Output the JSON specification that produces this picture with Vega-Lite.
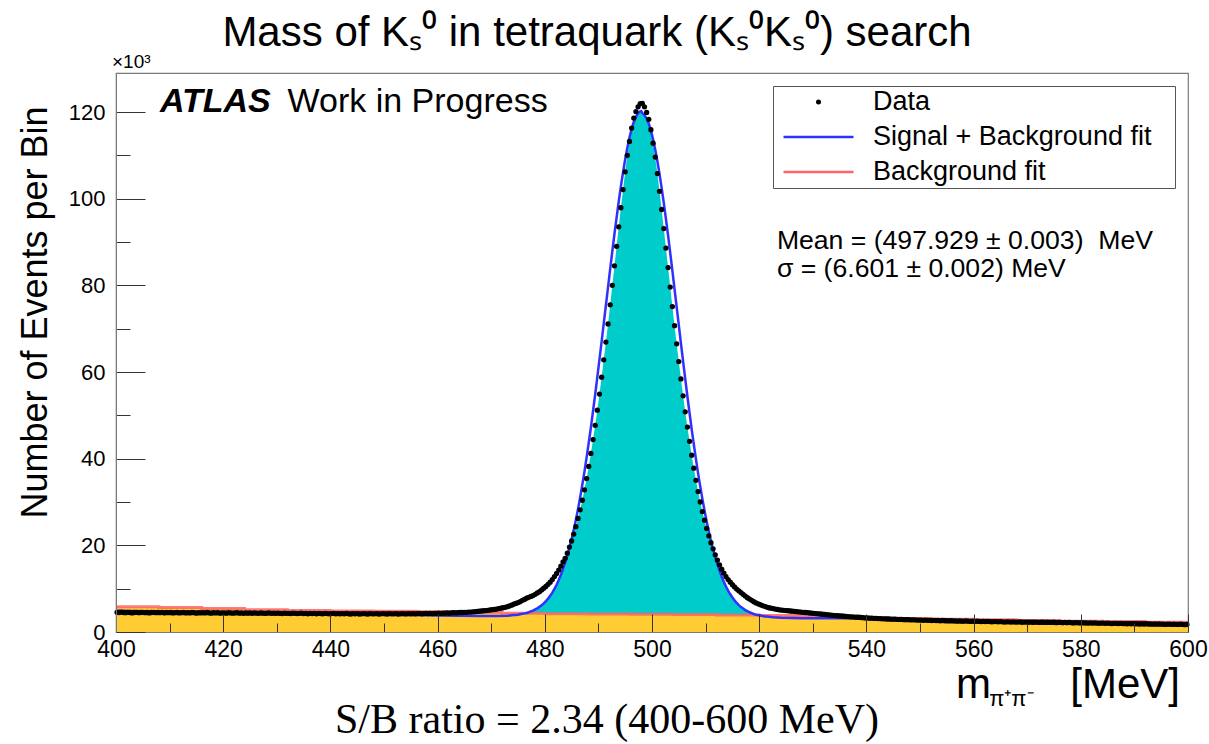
{
  "$schema": "https://vega.github.io/schema/vega-lite/v6.json",
  "width": 1072,
  "height": 559,
  "autosize": {"type": "none"},
  "padding": {"left": 116, "top": 73, "right": 21, "bottom": 112},
  "background": "white",
  "config": {
    "view": {"stroke": "#7a7a7a", "strokeWidth": 1.2},
    "font": "Liberation Sans",
    "text": {"font": "Liberation Sans", "color": "black"},
    "legend": {
      "orient": "none",
      "legendX": 657,
      "legendY": 13,
      "fillColor": "white",
      "strokeColor": "#555555",
      "padding": 0,
      "symbolType": "stroke",
      "symbolSize": 4900,
      "symbolStrokeWidth": 2.5,
      "symbolOffset": 32,
      "labelOffset": 41,
      "clipHeight": 32,
      "rowPadding": 3,
      "labelFont": "Liberation Sans",
      "labelFontSize": 27,
      "labelColor": "black",
      "labelLimit": 500,
      "titleOrient": "right",
      "titlePadding": 24,
      "titleFont": "Liberation Sans",
      "titleFontSize": 27,
      "titleColor": "white"
    }
  },
  "title": {
    "text": "Mass of Kₛ⁰ in tetraquark (Kₛ⁰Kₛ⁰) search",
    "font": "Liberation Sans",
    "fontSize": 42,
    "fontWeight": "normal",
    "color": "black",
    "anchor": "middle",
    "frame": "group",
    "dx": -55,
    "offset": -2
  },
  "datasets": {
    "bkg": [
      {"m": 400, "n": 5.8}, {"m": 408, "n": 5.65}, {"m": 416, "n": 5.4}, {"m": 424, "n": 5.15},
      {"m": 432, "n": 4.95}, {"m": 440, "n": 4.85}, {"m": 448, "n": 4.8}, {"m": 456, "n": 4.7},
      {"m": 464, "n": 4.55}, {"m": 472, "n": 4.35}, {"m": 480, "n": 4.2}, {"m": 488, "n": 4.15},
      {"m": 496, "n": 4.1}, {"m": 504, "n": 4.05}, {"m": 512, "n": 3.95}, {"m": 520, "n": 3.8},
      {"m": 528, "n": 3.55}, {"m": 536, "n": 3.3}, {"m": 544, "n": 3.1}, {"m": 552, "n": 2.95},
      {"m": 560, "n": 2.8}, {"m": 568, "n": 2.65}, {"m": 576, "n": 2.5}, {"m": 584, "n": 2.4},
      {"m": 592, "n": 2.25}, {"m": 600, "n": 2.25}
    ],
    "sig": [
      {"m": 474.2, "n": 3.9}, {"m": 474.6, "n": 3.95}, {"m": 475.0, "n": 4.0}, {"m": 475.4, "n": 4.1},
      {"m": 475.8, "n": 4.2}, {"m": 476.2, "n": 4.3}, {"m": 476.6, "n": 4.4}, {"m": 477.0, "n": 4.55},
      {"m": 477.4, "n": 4.75}, {"m": 477.8, "n": 4.95}, {"m": 478.2, "n": 5.2}, {"m": 478.6, "n": 5.45},
      {"m": 479.0, "n": 5.8}, {"m": 479.4, "n": 6.15}, {"m": 479.8, "n": 6.6}, {"m": 480.2, "n": 7.1},
      {"m": 480.6, "n": 7.7}, {"m": 481.0, "n": 8.35}, {"m": 481.4, "n": 9.1}, {"m": 481.8, "n": 9.95},
      {"m": 482.2, "n": 10.9}, {"m": 482.6, "n": 12.0}, {"m": 483.0, "n": 13.2}, {"m": 483.4, "n": 14.55},
      {"m": 483.8, "n": 16.0}, {"m": 484.2, "n": 17.7}, {"m": 484.6, "n": 19.5}, {"m": 485.0, "n": 21.0},
      {"m": 485.4, "n": 22.6}, {"m": 485.8, "n": 24.3}, {"m": 486.2, "n": 26.2}, {"m": 486.6, "n": 28.2},
      {"m": 487.0, "n": 30.4}, {"m": 487.4, "n": 32.8}, {"m": 487.8, "n": 35.4}, {"m": 488.2, "n": 38.2},
      {"m": 488.6, "n": 41.2}, {"m": 489.0, "n": 44.4}, {"m": 489.4, "n": 47.7}, {"m": 489.8, "n": 51.2},
      {"m": 490.2, "n": 54.9}, {"m": 490.6, "n": 58.8}, {"m": 491.0, "n": 62.8}, {"m": 491.4, "n": 66.9},
      {"m": 491.8, "n": 71.1}, {"m": 492.2, "n": 75.5}, {"m": 492.6, "n": 80.0}, {"m": 493.0, "n": 84.5},
      {"m": 493.4, "n": 89.0}, {"m": 493.8, "n": 93.5}, {"m": 494.2, "n": 97.9}, {"m": 494.6, "n": 102.1},
      {"m": 495.0, "n": 106.2}, {"m": 495.4, "n": 110.0}, {"m": 495.8, "n": 113.2}, {"m": 496.2, "n": 116.1},
      {"m": 496.6, "n": 117.7}, {"m": 497.0, "n": 118.9}, {"m": 497.4, "n": 119.7}, {"m": 497.8, "n": 120.15},
      {"m": 498.2, "n": 119.75}, {"m": 498.6, "n": 119.3}, {"m": 499.0, "n": 118.5}, {"m": 499.4, "n": 117.3},
      {"m": 499.8, "n": 115.7}, {"m": 500.2, "n": 112.8}, {"m": 500.6, "n": 109.6}, {"m": 501.0, "n": 105.8},
      {"m": 501.4, "n": 101.7}, {"m": 501.8, "n": 97.5}, {"m": 502.2, "n": 93.1}, {"m": 502.6, "n": 88.6},
      {"m": 503.0, "n": 84.1}, {"m": 503.4, "n": 79.6}, {"m": 503.8, "n": 75.1}, {"m": 504.2, "n": 70.7},
      {"m": 504.6, "n": 66.5}, {"m": 505.0, "n": 62.4}, {"m": 505.4, "n": 58.4}, {"m": 505.8, "n": 54.5},
      {"m": 506.2, "n": 50.8}, {"m": 506.6, "n": 47.3}, {"m": 507.0, "n": 44.0}, {"m": 507.4, "n": 40.8},
      {"m": 507.8, "n": 37.8}, {"m": 508.2, "n": 35.0}, {"m": 508.6, "n": 32.4}, {"m": 509.0, "n": 30.0},
      {"m": 509.4, "n": 27.8}, {"m": 509.8, "n": 25.8}, {"m": 510.2, "n": 23.9}, {"m": 510.6, "n": 22.2},
      {"m": 511.0, "n": 20.6}, {"m": 511.4, "n": 19.1}, {"m": 511.8, "n": 17.3}, {"m": 512.2, "n": 15.6},
      {"m": 512.6, "n": 14.15}, {"m": 513.0, "n": 12.8}, {"m": 513.4, "n": 11.6}, {"m": 513.8, "n": 10.5},
      {"m": 514.2, "n": 9.55}, {"m": 514.6, "n": 8.7}, {"m": 515.0, "n": 7.95}, {"m": 515.4, "n": 7.3},
      {"m": 515.8, "n": 6.7}, {"m": 516.2, "n": 6.2}, {"m": 516.6, "n": 5.75}, {"m": 517.0, "n": 5.4},
      {"m": 517.4, "n": 5.05}, {"m": 517.8, "n": 4.8}, {"m": 518.2, "n": 4.55}, {"m": 518.6, "n": 4.35},
      {"m": 519.0, "n": 4.15}, {"m": 519.4, "n": 4.0}, {"m": 519.8, "n": 3.9}, {"m": 520.2, "n": 3.8}
    ],
    "fit": [
      {"m": 400, "n": 4.9}, {"m": 405, "n": 4.8}, {"m": 410, "n": 4.7}, {"m": 415, "n": 4.6},
      {"m": 420, "n": 4.5}, {"m": 425, "n": 4.42}, {"m": 430, "n": 4.35}, {"m": 435, "n": 4.28},
      {"m": 440, "n": 4.2}, {"m": 445, "n": 4.1}, {"m": 450, "n": 4.0}, {"m": 455, "n": 3.9},
      {"m": 460, "n": 3.8}, {"m": 464, "n": 3.75}, {"m": 468, "n": 3.7}, {"m": 471, "n": 3.7},
      {"m": 473, "n": 3.75}, {"m": 474.2, "n": 3.9}, {"m": 474.6, "n": 3.95}, {"m": 475.0, "n": 4.0},
      {"m": 475.4, "n": 4.1}, {"m": 475.8, "n": 4.2}, {"m": 476.2, "n": 4.3}, {"m": 476.6, "n": 4.4},
      {"m": 477.0, "n": 4.55}, {"m": 477.4, "n": 4.75}, {"m": 477.8, "n": 4.95}, {"m": 478.2, "n": 5.2},
      {"m": 478.6, "n": 5.45}, {"m": 479.0, "n": 5.8}, {"m": 479.4, "n": 6.15}, {"m": 479.8, "n": 6.6},
      {"m": 480.2, "n": 7.1}, {"m": 480.6, "n": 7.7}, {"m": 481.0, "n": 8.35}, {"m": 481.4, "n": 9.1},
      {"m": 481.8, "n": 9.95}, {"m": 482.2, "n": 10.9}, {"m": 482.6, "n": 12.0}, {"m": 483.0, "n": 13.2},
      {"m": 483.4, "n": 14.55}, {"m": 483.8, "n": 16.0}, {"m": 484.2, "n": 17.7}, {"m": 484.6, "n": 19.5},
      {"m": 485.0, "n": 21.4}, {"m": 485.4, "n": 23.6}, {"m": 485.8, "n": 25.9}, {"m": 486.2, "n": 28.4},
      {"m": 486.6, "n": 31.1}, {"m": 487.0, "n": 34.0}, {"m": 487.4, "n": 37.0}, {"m": 487.8, "n": 40.3},
      {"m": 488.2, "n": 43.7}, {"m": 488.6, "n": 47.2}, {"m": 489.0, "n": 51.0}, {"m": 489.4, "n": 54.8},
      {"m": 489.8, "n": 58.8}, {"m": 490.2, "n": 62.9}, {"m": 490.6, "n": 67.0}, {"m": 491.0, "n": 71.2},
      {"m": 491.4, "n": 75.4}, {"m": 491.8, "n": 79.6}, {"m": 492.2, "n": 83.8}, {"m": 492.6, "n": 87.9},
      {"m": 493.0, "n": 91.9}, {"m": 493.4, "n": 95.7}, {"m": 493.8, "n": 99.4}, {"m": 494.2, "n": 102.9},
      {"m": 494.6, "n": 106.1}, {"m": 495.0, "n": 109.1}, {"m": 495.4, "n": 111.75}, {"m": 495.8, "n": 114.1},
      {"m": 496.2, "n": 116.1}, {"m": 496.6, "n": 117.7}, {"m": 497.0, "n": 118.9}, {"m": 497.4, "n": 119.7},
      {"m": 497.8, "n": 120.15}, {"m": 498.0, "n": 120.2}, {"m": 498.2, "n": 119.75}, {"m": 498.6, "n": 119.3},
      {"m": 499.0, "n": 118.5}, {"m": 499.4, "n": 117.3}, {"m": 499.8, "n": 115.7}, {"m": 500.2, "n": 113.7},
      {"m": 500.6, "n": 111.35}, {"m": 501.0, "n": 108.7}, {"m": 501.4, "n": 105.7}, {"m": 501.8, "n": 102.5},
      {"m": 502.2, "n": 99.0}, {"m": 502.6, "n": 95.3}, {"m": 503.0, "n": 91.5}, {"m": 503.4, "n": 87.5},
      {"m": 503.8, "n": 83.4}, {"m": 504.2, "n": 79.2}, {"m": 504.6, "n": 75.0}, {"m": 505.0, "n": 70.8},
      {"m": 505.4, "n": 66.6}, {"m": 505.8, "n": 62.5}, {"m": 506.2, "n": 58.4}, {"m": 506.6, "n": 54.4},
      {"m": 507.0, "n": 50.6}, {"m": 507.4, "n": 46.8}, {"m": 507.8, "n": 43.3}, {"m": 508.2, "n": 39.9},
      {"m": 508.6, "n": 36.6}, {"m": 509.0, "n": 33.6}, {"m": 509.4, "n": 30.7}, {"m": 509.8, "n": 28.0},
      {"m": 510.2, "n": 25.5}, {"m": 510.6, "n": 23.2}, {"m": 511.0, "n": 21.0}, {"m": 511.4, "n": 19.1},
      {"m": 511.8, "n": 17.3}, {"m": 512.2, "n": 15.6}, {"m": 512.6, "n": 14.15}, {"m": 513.0, "n": 12.8},
      {"m": 513.4, "n": 11.6}, {"m": 513.8, "n": 10.5}, {"m": 514.2, "n": 9.55}, {"m": 514.6, "n": 8.7},
      {"m": 515.0, "n": 7.95}, {"m": 515.4, "n": 7.3}, {"m": 515.8, "n": 6.7}, {"m": 516.2, "n": 6.2},
      {"m": 516.6, "n": 5.75}, {"m": 517.0, "n": 5.4}, {"m": 517.4, "n": 5.05}, {"m": 517.8, "n": 4.8},
      {"m": 518.2, "n": 4.55}, {"m": 518.6, "n": 4.35}, {"m": 519.0, "n": 4.15}, {"m": 519.4, "n": 4.0},
      {"m": 519.8, "n": 3.9}, {"m": 520.2, "n": 3.8}, {"m": 520.6, "n": 3.7}, {"m": 521.0, "n": 3.6},
      {"m": 521.4, "n": 3.55}, {"m": 521.8, "n": 3.5}, {"m": 522.6, "n": 3.4}, {"m": 524, "n": 3.3},
      {"m": 526, "n": 3.25}, {"m": 528, "n": 3.2}, {"m": 532, "n": 3.2}, {"m": 536, "n": 3.2},
      {"m": 540, "n": 3.15}, {"m": 545, "n": 2.95}, {"m": 550, "n": 2.75}, {"m": 555, "n": 2.6},
      {"m": 560, "n": 2.45}, {"m": 570, "n": 2.3}, {"m": 580, "n": 2.15}, {"m": 590, "n": 1.95},
      {"m": 600, "n": 1.75}
    ],
    "hist": [
      {"m":400.2,"n":4.55},{"m":400.6,"n":4.5},{"m":401.0,"n":4.6},{"m":401.4,"n":4.5},{"m":401.8,"n":4.45},
      {"m":402.2,"n":4.55},{"m":402.6,"n":4.5},{"m":403.0,"n":4.4},{"m":403.4,"n":4.5},{"m":403.8,"n":4.55},
      {"m":404.2,"n":4.45},{"m":404.6,"n":4.5},{"m":405.0,"n":4.55},{"m":405.4,"n":4.45},{"m":405.8,"n":4.5},
      {"m":406.2,"n":4.4},{"m":406.6,"n":4.5},{"m":407.0,"n":4.55},{"m":407.4,"n":4.45},{"m":407.8,"n":4.5},
      {"m":408.2,"n":4.45},{"m":408.6,"n":4.55},{"m":409.0,"n":4.4},{"m":409.4,"n":4.5},{"m":409.8,"n":4.45},
      {"m":410.2,"n":4.5},{"m":410.6,"n":4.4},{"m":411.0,"n":4.45},{"m":411.4,"n":4.5},{"m":411.8,"n":4.4},
      {"m":412.2,"n":4.45},{"m":412.6,"n":4.5},{"m":413.0,"n":4.4},{"m":413.4,"n":4.45},{"m":413.8,"n":4.4},
      {"m":414.2,"n":4.5},{"m":414.6,"n":4.45},{"m":415.0,"n":4.35},{"m":415.4,"n":4.45},{"m":415.8,"n":4.4},
      {"m":416.2,"n":4.45},{"m":416.6,"n":4.4},{"m":417.0,"n":4.5},{"m":417.4,"n":4.4},{"m":417.8,"n":4.35},
      {"m":418.2,"n":4.45},{"m":418.6,"n":4.4},{"m":419.0,"n":4.45},{"m":419.4,"n":4.35},{"m":419.8,"n":4.4},
      {"m":420.2,"n":4.4},{"m":420.6,"n":4.35},{"m":421.0,"n":4.45},{"m":421.4,"n":4.4},{"m":421.8,"n":4.35},
      {"m":422.2,"n":4.4},{"m":422.6,"n":4.45},{"m":423.0,"n":4.35},{"m":423.4,"n":4.4},{"m":423.8,"n":4.3},
      {"m":424.2,"n":4.4},{"m":424.6,"n":4.35},{"m":425.0,"n":4.4},{"m":425.4,"n":4.3},{"m":425.8,"n":4.4},
      {"m":426.2,"n":4.35},{"m":426.6,"n":4.3},{"m":427.0,"n":4.4},{"m":427.4,"n":4.35},{"m":427.8,"n":4.3},
      {"m":428.2,"n":4.35},{"m":428.6,"n":4.4},{"m":429.0,"n":4.3},{"m":429.4,"n":4.35},{"m":429.8,"n":4.3},
      {"m":430.2,"n":4.35},{"m":430.6,"n":4.3},{"m":431.0,"n":4.25},{"m":431.4,"n":4.35},{"m":431.8,"n":4.3},
      {"m":432.2,"n":4.3},{"m":432.6,"n":4.25},{"m":433.0,"n":4.35},{"m":433.4,"n":4.3},{"m":433.8,"n":4.25},
      {"m":434.2,"n":4.3},{"m":434.6,"n":4.35},{"m":435.0,"n":4.25},{"m":435.4,"n":4.3},{"m":435.8,"n":4.2},
      {"m":436.2,"n":4.3},{"m":436.6,"n":4.25},{"m":437.0,"n":4.3},{"m":437.4,"n":4.2},{"m":437.8,"n":4.3},
      {"m":438.2,"n":4.25},{"m":438.6,"n":4.2},{"m":439.0,"n":4.3},{"m":439.4,"n":4.25},{"m":439.8,"n":4.2},
      {"m":440.2,"n":4.25},{"m":440.6,"n":4.3},{"m":441.0,"n":4.2},{"m":441.4,"n":4.25},{"m":441.8,"n":4.2},
      {"m":442.2,"n":4.25},{"m":442.6,"n":4.2},{"m":443.0,"n":4.3},{"m":443.4,"n":4.2},{"m":443.8,"n":4.15},
      {"m":444.2,"n":4.25},{"m":444.6,"n":4.2},{"m":445.0,"n":4.25},{"m":445.4,"n":4.15},{"m":445.8,"n":4.2},
      {"m":446.2,"n":4.25},{"m":446.6,"n":4.2},{"m":447.0,"n":4.15},{"m":447.4,"n":4.25},{"m":447.8,"n":4.2},
      {"m":448.2,"n":4.2},{"m":448.6,"n":4.25},{"m":449.0,"n":4.15},{"m":449.4,"n":4.2},{"m":449.8,"n":4.25},
      {"m":450.2,"n":4.2},{"m":450.6,"n":4.15},{"m":451.0,"n":4.25},{"m":451.4,"n":4.2},{"m":451.8,"n":4.2},
      {"m":452.2,"n":4.25},{"m":452.6,"n":4.15},{"m":453.0,"n":4.2},{"m":453.4,"n":4.25},{"m":453.8,"n":4.2},
      {"m":454.2,"n":4.2},{"m":454.6,"n":4.25},{"m":455.0,"n":4.2},{"m":455.4,"n":4.25},{"m":455.8,"n":4.2},
      {"m":456.2,"n":4.25},{"m":456.6,"n":4.3},{"m":457.0,"n":4.2},{"m":457.4,"n":4.25},{"m":457.8,"n":4.3},
      {"m":458.2,"n":4.25},{"m":458.6,"n":4.3},{"m":459.0,"n":4.25},{"m":459.4,"n":4.3},{"m":459.8,"n":4.3},
      {"m":460.2,"n":4.35},{"m":460.6,"n":4.3},{"m":461.0,"n":4.35},{"m":461.4,"n":4.35},{"m":461.8,"n":4.4},
      {"m":462.2,"n":4.35},{"m":462.6,"n":4.4},{"m":463.0,"n":4.45},{"m":463.4,"n":4.4},{"m":463.8,"n":4.45},
      {"m":464.2,"n":4.5},{"m":464.6,"n":4.5},{"m":465.0,"n":4.55},{"m":465.4,"n":4.55},{"m":465.8,"n":4.6},
      {"m":466.2,"n":4.6},{"m":466.6,"n":4.65},{"m":467.0,"n":4.7},{"m":467.4,"n":4.75},{"m":467.8,"n":4.8},
      {"m":468.2,"n":4.85},{"m":468.6,"n":4.9},{"m":469.0,"n":4.95},{"m":469.4,"n":5.0},{"m":469.8,"n":5.1},
      {"m":470.2,"n":5.15},{"m":470.6,"n":5.2},{"m":471.0,"n":5.3},{"m":471.4,"n":5.4},{"m":471.8,"n":5.5},
      {"m":472.2,"n":5.6},{"m":472.6,"n":5.7},{"m":473.0,"n":5.85},{"m":473.4,"n":6.0},{"m":473.8,"n":6.2},
      {"m":474.2,"n":6.4},{"m":474.6,"n":6.6},{"m":475.0,"n":6.8},{"m":475.4,"n":7.0},{"m":475.8,"n":7.3},
      {"m":476.2,"n":7.5},{"m":476.6,"n":7.8},{"m":477.0,"n":8.0},{"m":477.4,"n":8.2},{"m":477.8,"n":8.4},
      {"m":478.2,"n":8.7},{"m":478.6,"n":9.0},{"m":479.0,"n":9.3},{"m":479.4,"n":9.7},{"m":479.8,"n":10.1},
      {"m":480.2,"n":10.5},{"m":480.6,"n":11.0},{"m":481.0,"n":11.5},{"m":481.4,"n":12.1},{"m":481.8,"n":12.8},
      {"m":482.2,"n":13.5},{"m":482.6,"n":14.3},{"m":483.0,"n":15.2},{"m":483.4,"n":16.2},{"m":483.8,"n":17.0},
      {"m":484.2,"n":18.2},{"m":484.6,"n":19.6},{"m":485.0,"n":21.0},{"m":485.4,"n":22.6},{"m":485.8,"n":24.3},
      {"m":486.2,"n":26.2},{"m":486.6,"n":28.2},{"m":487.0,"n":30.4},{"m":487.4,"n":32.8},{"m":487.8,"n":35.4},
      {"m":488.2,"n":38.2},{"m":488.6,"n":41.2},{"m":489.0,"n":44.4},{"m":489.4,"n":47.7},{"m":489.8,"n":51.2},
      {"m":490.2,"n":54.9},{"m":490.6,"n":58.8},{"m":491.0,"n":62.8},{"m":491.4,"n":66.9},{"m":491.8,"n":71.1},
      {"m":492.2,"n":75.5},{"m":492.6,"n":80.0},{"m":493.0,"n":84.5},{"m":493.4,"n":89.0},{"m":493.8,"n":93.5},
      {"m":494.2,"n":97.9},{"m":494.6,"n":102.1},{"m":495.0,"n":106.2},{"m":495.4,"n":110.0},{"m":495.8,"n":113.2},
      {"m":496.2,"n":116.3},{"m":496.6,"n":118.6},{"m":497.0,"n":120.1},{"m":497.4,"n":121.2},{"m":497.8,"n":121.9},
      {"m":498.2,"n":122.0},{"m":498.6,"n":121.2},{"m":499.0,"n":119.9},{"m":499.4,"n":118.3},{"m":499.8,"n":115.9},
      {"m":500.2,"n":112.8},{"m":500.6,"n":109.6},{"m":501.0,"n":105.8},{"m":501.4,"n":101.7},{"m":501.8,"n":97.5},
      {"m":502.2,"n":93.1},{"m":502.6,"n":88.6},{"m":503.0,"n":84.1},{"m":503.4,"n":79.6},{"m":503.8,"n":75.1},
      {"m":504.2,"n":70.7},{"m":504.6,"n":66.5},{"m":505.0,"n":62.4},{"m":505.4,"n":58.4},{"m":505.8,"n":54.5},
      {"m":506.2,"n":50.8},{"m":506.6,"n":47.3},{"m":507.0,"n":44.0},{"m":507.4,"n":40.8},{"m":507.8,"n":37.8},
      {"m":508.2,"n":35.0},{"m":508.6,"n":32.4},{"m":509.0,"n":30.0},{"m":509.4,"n":27.8},{"m":509.8,"n":25.8},
      {"m":510.2,"n":23.9},{"m":510.6,"n":22.2},{"m":511.0,"n":20.6},{"m":511.4,"n":19.2},{"m":511.8,"n":17.8},
      {"m":512.2,"n":16.6},{"m":512.6,"n":15.5},{"m":513.0,"n":14.5},{"m":513.4,"n":13.6},{"m":513.8,"n":12.8},
      {"m":514.2,"n":12.1},{"m":514.6,"n":11.5},{"m":515.0,"n":10.9},{"m":515.4,"n":10.4},{"m":515.8,"n":9.9},
      {"m":516.2,"n":9.5},{"m":516.6,"n":9.1},{"m":517.0,"n":8.7},{"m":517.4,"n":8.3},{"m":517.8,"n":7.9},
      {"m":518.2,"n":7.6},{"m":518.6,"n":7.3},{"m":519.0,"n":7.0},{"m":519.4,"n":6.7},{"m":519.8,"n":6.5},
      {"m":520.2,"n":6.3},{"m":520.6,"n":6.1},{"m":521.0,"n":5.9},{"m":521.4,"n":5.75},{"m":521.8,"n":5.6},
      {"m":522.2,"n":5.5},{"m":522.6,"n":5.4},{"m":523.0,"n":5.3},{"m":523.4,"n":5.2},{"m":523.8,"n":5.1},
      {"m":524.2,"n":5.05},{"m":524.6,"n":5.0},{"m":525.0,"n":4.95},{"m":525.4,"n":4.9},{"m":525.8,"n":4.85},
      {"m":526.2,"n":4.8},{"m":526.6,"n":4.75},{"m":527.0,"n":4.7},{"m":527.4,"n":4.65},{"m":527.8,"n":4.6},
      {"m":528.2,"n":4.55},{"m":528.6,"n":4.5},{"m":529.0,"n":4.45},{"m":529.4,"n":4.4},{"m":529.8,"n":4.35},
      {"m":530.2,"n":4.3},{"m":530.6,"n":4.25},{"m":531.0,"n":4.2},{"m":531.4,"n":4.15},{"m":531.8,"n":4.1},
      {"m":532.2,"n":4.05},{"m":532.6,"n":4.0},{"m":533.0,"n":3.95},{"m":533.4,"n":3.9},{"m":533.8,"n":3.85},
      {"m":534.2,"n":3.8},{"m":534.6,"n":3.75},{"m":535.0,"n":3.7},{"m":535.4,"n":3.7},{"m":535.8,"n":3.65},
      {"m":536.2,"n":3.6},{"m":536.6,"n":3.55},{"m":537.0,"n":3.5},{"m":537.4,"n":3.5},{"m":537.8,"n":3.45},
      {"m":538.2,"n":3.4},{"m":538.6,"n":3.4},{"m":539.0,"n":3.35},{"m":539.4,"n":3.3},{"m":539.8,"n":3.25},
      {"m":540.2,"n":3.25},{"m":540.6,"n":3.2},{"m":541.0,"n":3.2},{"m":541.4,"n":3.15},{"m":541.8,"n":3.15},
      {"m":542.2,"n":3.1},{"m":542.6,"n":3.1},{"m":543.0,"n":3.05},{"m":543.4,"n":3.05},{"m":543.8,"n":3.0},
      {"m":544.2,"n":3.0},{"m":544.6,"n":2.95},{"m":545.0,"n":2.95},{"m":545.4,"n":2.95},{"m":545.8,"n":2.9},
      {"m":546.2,"n":2.9},{"m":546.6,"n":2.9},{"m":547.0,"n":2.85},{"m":547.4,"n":2.85},{"m":547.8,"n":2.85},
      {"m":548.2,"n":2.8},{"m":548.6,"n":2.8},{"m":549.0,"n":2.8},{"m":549.4,"n":2.75},{"m":549.8,"n":2.75},
      {"m":550.2,"n":2.75},{"m":550.6,"n":2.7},{"m":551.0,"n":2.75},{"m":551.4,"n":2.7},{"m":551.8,"n":2.7},
      {"m":552.2,"n":2.65},{"m":552.6,"n":2.7},{"m":553.0,"n":2.65},{"m":553.4,"n":2.65},{"m":553.8,"n":2.6},
      {"m":554.2,"n":2.65},{"m":554.6,"n":2.6},{"m":555.0,"n":2.6},{"m":555.4,"n":2.55},{"m":555.8,"n":2.6},
      {"m":556.2,"n":2.55},{"m":556.6,"n":2.55},{"m":557.0,"n":2.5},{"m":557.4,"n":2.55},{"m":557.8,"n":2.5},
      {"m":558.2,"n":2.5},{"m":558.6,"n":2.55},{"m":559.0,"n":2.5},{"m":559.4,"n":2.45},{"m":559.8,"n":2.5},
      {"m":560.2,"n":2.45},{"m":560.6,"n":2.5},{"m":561.0,"n":2.45},{"m":561.4,"n":2.4},{"m":561.8,"n":2.45},
      {"m":562.2,"n":2.4},{"m":562.6,"n":2.45},{"m":563.0,"n":2.4},{"m":563.4,"n":2.35},{"m":563.8,"n":2.4},
      {"m":564.2,"n":2.4},{"m":564.6,"n":2.35},{"m":565.0,"n":2.4},{"m":565.4,"n":2.35},{"m":565.8,"n":2.3},
      {"m":566.2,"n":2.35},{"m":566.6,"n":2.35},{"m":567.0,"n":2.3},{"m":567.4,"n":2.35},{"m":567.8,"n":2.3},
      {"m":568.2,"n":2.3},{"m":568.6,"n":2.35},{"m":569.0,"n":2.25},{"m":569.4,"n":2.3},{"m":569.8,"n":2.3},
      {"m":570.2,"n":2.25},{"m":570.6,"n":2.3},{"m":571.0,"n":2.25},{"m":571.4,"n":2.25},{"m":571.8,"n":2.3},
      {"m":572.2,"n":2.2},{"m":572.6,"n":2.25},{"m":573.0,"n":2.25},{"m":573.4,"n":2.2},{"m":573.8,"n":2.25},
      {"m":574.2,"n":2.2},{"m":574.6,"n":2.2},{"m":575.0,"n":2.25},{"m":575.4,"n":2.15},{"m":575.8,"n":2.2},
      {"m":576.2,"n":2.2},{"m":576.6,"n":2.15},{"m":577.0,"n":2.2},{"m":577.4,"n":2.15},{"m":577.8,"n":2.2},
      {"m":578.2,"n":2.15},{"m":578.6,"n":2.1},{"m":579.0,"n":2.15},{"m":579.4,"n":2.15},{"m":579.8,"n":2.1},
      {"m":580.2,"n":2.15},{"m":580.6,"n":2.1},{"m":581.0,"n":2.1},{"m":581.4,"n":2.05},{"m":581.8,"n":2.1},
      {"m":582.2,"n":2.05},{"m":582.6,"n":2.1},{"m":583.0,"n":2.05},{"m":583.4,"n":2.0},{"m":583.8,"n":2.05},
      {"m":584.2,"n":2.05},{"m":584.6,"n":2.0},{"m":585.0,"n":2.05},{"m":585.4,"n":2.0},{"m":585.8,"n":1.95},
      {"m":586.2,"n":2.0},{"m":586.6,"n":2.0},{"m":587.0,"n":1.95},{"m":587.4,"n":2.0},{"m":587.8,"n":1.95},
      {"m":588.2,"n":1.95},{"m":588.6,"n":1.9},{"m":589.0,"n":1.95},{"m":589.4,"n":1.9},{"m":589.8,"n":1.95},
      {"m":590.2,"n":1.9},{"m":590.6,"n":1.9},{"m":591.0,"n":1.85},{"m":591.4,"n":1.9},{"m":591.8,"n":1.85},
      {"m":592.2,"n":1.9},{"m":592.6,"n":1.85},{"m":593.0,"n":1.85},{"m":593.4,"n":1.8},{"m":593.8,"n":1.85},
      {"m":594.2,"n":1.8},{"m":594.6,"n":1.85},{"m":595.0,"n":1.8},{"m":595.4,"n":1.8},{"m":595.8,"n":1.75},
      {"m":596.2,"n":1.8},{"m":596.6,"n":1.8},{"m":597.0,"n":1.75},{"m":597.4,"n":1.8},{"m":597.8,"n":1.75},
      {"m":598.2,"n":1.75},{"m":598.6,"n":1.8},{"m":599.0,"n":1.75},{"m":599.4,"n":1.7},{"m":599.8,"n":1.75}
    ]
  },
  "layer": [
    {
      "data": {"name": "sig"},
      "mark": {"type": "area", "color": "#00cccc", "interpolate": "linear"},
      "encoding": {
        "x": {
          "field": "m",
          "type": "quantitative",
          "scale": {"domain": [400, 600], "nice": false},
          "axis": {
            "title": null,
            "values": [400,405,410,415,420,425,430,435,440,445,450,455,460,465,470,475,480,485,490,495,500,505,510,515,520,525,530,535,540,545,550,555,560,565,570,575,580,585,590,595,600],
            "labelExpr": "datum.value % 20 === 0 ? datum.label : ''",
            "labelFont": "Liberation Sans",
            "labelFontSize": 23,
            "labelColor": "black",
            "labelPadding": 24,
            "labelFlush": false,
            "labelOverlap": false,
            "tickSize": {"condition": {"test": "datum.value % 20 === 0", "value": -18}, "value": -9},
            "tickColor": "#333333",
            "tickWidth": 1,
            "domainColor": "#7a7a7a",
            "grid": false,
            "zindex": 1
          }
        },
        "y": {
          "field": "n",
          "type": "quantitative",
          "scale": {"domain": [0, 129], "nice": false},
          "axis": {
            "title": "Number of Events per Bin",
            "titleFont": "Liberation Sans",
            "titleFontSize": 36,
            "titleFontWeight": "normal",
            "titleColor": "black",
            "titleAngle": -90,
            "titleX": -81,
            "titleY": 239,
            "titleAlign": "center",
            "titleBaseline": "middle",
            "values": [0,5,10,15,20,25,30,35,40,45,50,55,60,65,70,75,80,85,90,95,100,105,110,115,120,125],
            "labelExpr": "datum.value % 20 === 0 ? datum.label : ''",
            "labelFont": "Liberation Sans",
            "labelFontSize": 22,
            "labelColor": "black",
            "labelPadding": 40,
            "labelOverlap": false,
            "labelBound": false,
            "tickSize": {"condition": {"test": "datum.value % 20 === 0", "value": -29}, "value": -14},
            "tickColor": "#333333",
            "tickWidth": 1,
            "domainColor": "#7a7a7a",
            "grid": false,
            "zindex": 1
          }
        }
      }
    },
    {
      "data": {"name": "bkg"},
      "mark": {"type": "area", "color": "#ffcc33", "interpolate": "step-after"},
      "encoding": {
        "x": {"field": "m", "type": "quantitative"},
        "y": {"field": "n", "type": "quantitative"}
      }
    },
    {
      "data": {"name": "bkg"},
      "mark": {"type": "line", "interpolate": "step-after", "strokeWidth": 3, "opacity": 0.85},
      "encoding": {
        "x": {"field": "m", "type": "quantitative"},
        "y": {"field": "n", "type": "quantitative"},
        "color": {
          "datum": "Background fit",
          "type": "nominal",
          "scale": {
            "domain": ["Data", "Signal + Background fit", "Background fit"],
            "range": ["#000000", "#3030ff", "#ff6464"]
          },
          "legend": {
            "title": "\u00a0",
            "encode": {
              "symbols": {
                "update": {
                  "shape": {"signal": "datum.value === 'Data' ? 'circle' : 'stroke'"},
                  "size": {"signal": "datum.value === 'Data' ? 25 : 4900"},
                  "fill": {"signal": "datum.value === 'Data' ? '#000000' : 'transparent'"},
                  "strokeWidth": {"signal": "datum.value === 'Data' ? 0 : 2.5"}
                }
              }
            }
          }
        }
      }
    },
    {
      "data": {"name": "fit"},
      "mark": {"type": "line", "strokeWidth": 2.5},
      "encoding": {
        "x": {"field": "m", "type": "quantitative"},
        "y": {"field": "n", "type": "quantitative"},
        "color": {
          "datum": "Signal + Background fit",
          "type": "nominal",
          "legend": {
            "title": "\u00a0",
            "encode": {
              "symbols": {
                "update": {
                  "shape": {"signal": "datum.value === 'Data' ? 'circle' : 'stroke'"},
                  "size": {"signal": "datum.value === 'Data' ? 25 : 4900"},
                  "fill": {"signal": "datum.value === 'Data' ? '#000000' : 'transparent'"},
                  "strokeWidth": {"signal": "datum.value === 'Data' ? 0 : 2.5"}
                }
              }
            }
          }
        }
      }
    },
    {
      "data": {"name": "hist"},
      "mark": {"type": "point", "filled": true, "size": 28, "opacity": 1},
      "encoding": {
        "x": {"field": "m", "type": "quantitative"},
        "y": {"field": "n", "type": "quantitative"},
        "color": {
          "datum": "Data",
          "type": "nominal",
          "legend": {
            "title": "\u00a0",
            "encode": {
              "symbols": {
                "update": {
                  "shape": {"signal": "datum.value === 'Data' ? 'circle' : 'stroke'"},
                  "size": {"signal": "datum.value === 'Data' ? 25 : 4900"},
                  "fill": {"signal": "datum.value === 'Data' ? '#000000' : 'transparent'"},
                  "strokeWidth": {"signal": "datum.value === 'Data' ? 0 : 2.5"}
                }
              }
            }
          }
        }
      }
    },
    {
      "data": {"values": [{}]},
      "mark": {"type": "text", "text": "×10³", "fontSize": 19, "align": "left", "baseline": "bottom", "dx": -4, "dy": -1},
      "encoding": {"x": {"datum": 400, "type": "quantitative"}, "y": {"datum": 129, "type": "quantitative"}}
    },
    {
      "data": {"values": [{}]},
      "mark": {"type": "text", "text": "ATLAS", "fontSize": 34, "fontWeight": "bold", "fontStyle": "italic", "align": "left", "baseline": "alphabetic"},
      "encoding": {"x": {"datum": 408.2, "type": "quantitative"}, "y": {"datum": 120, "type": "quantitative"}}
    },
    {
      "data": {"values": [{}]},
      "mark": {"type": "text", "text": "Work in Progress", "fontSize": 34, "align": "left", "baseline": "alphabetic"},
      "encoding": {"x": {"datum": 432, "type": "quantitative"}, "y": {"datum": 120, "type": "quantitative"}}
    },
    {
      "data": {"values": [{}]},
      "mark": {"type": "text", "text": "Mean = (497.929 ± 0.003)\u00a0 MeV", "fontSize": 26.6, "align": "left", "baseline": "alphabetic"},
      "encoding": {"x": {"datum": 523.3, "type": "quantitative"}, "y": {"datum": 88.4, "type": "quantitative"}}
    },
    {
      "data": {"values": [{}]},
      "mark": {"type": "text", "text": "σ = (6.601 ± 0.002) MeV", "fontSize": 26.6, "align": "left", "baseline": "alphabetic"},
      "encoding": {"x": {"datum": 523.3, "type": "quantitative"}, "y": {"datum": 81.9, "type": "quantitative"}}
    },
    {
      "data": {"values": [{}]},
      "mark": {"type": "text", "text": "m", "fontSize": 42, "align": "left", "baseline": "alphabetic"},
      "encoding": {"x": {"datum": 556.7, "type": "quantitative"}, "y": {"datum": -15.2, "type": "quantitative"}}
    },
    {
      "data": {"values": [{}]},
      "mark": {"type": "text", "text": "π⁺π⁻", "fontSize": 22, "align": "left", "baseline": "alphabetic"},
      "encoding": {"x": {"datum": 562.9, "type": "quantitative"}, "y": {"datum": -17.0, "type": "quantitative"}}
    },
    {
      "data": {"values": [{}]},
      "mark": {"type": "text", "text": "[MeV]", "fontSize": 42, "align": "right", "baseline": "alphabetic", "dx": -8},
      "encoding": {"x": {"datum": 600, "type": "quantitative"}, "y": {"datum": -15.2, "type": "quantitative"}}
    },
    {
      "data": {"values": [{}]},
      "mark": {"type": "text", "text": "S/B ratio = 2.34 (400-600 MeV)", "font": "Liberation Serif", "fontSize": 42, "align": "center", "baseline": "alphabetic"},
      "encoding": {"x": {"datum": 491.6, "type": "quantitative"}, "y": {"datum": -23.3, "type": "quantitative"}}
    }
  ]
}
